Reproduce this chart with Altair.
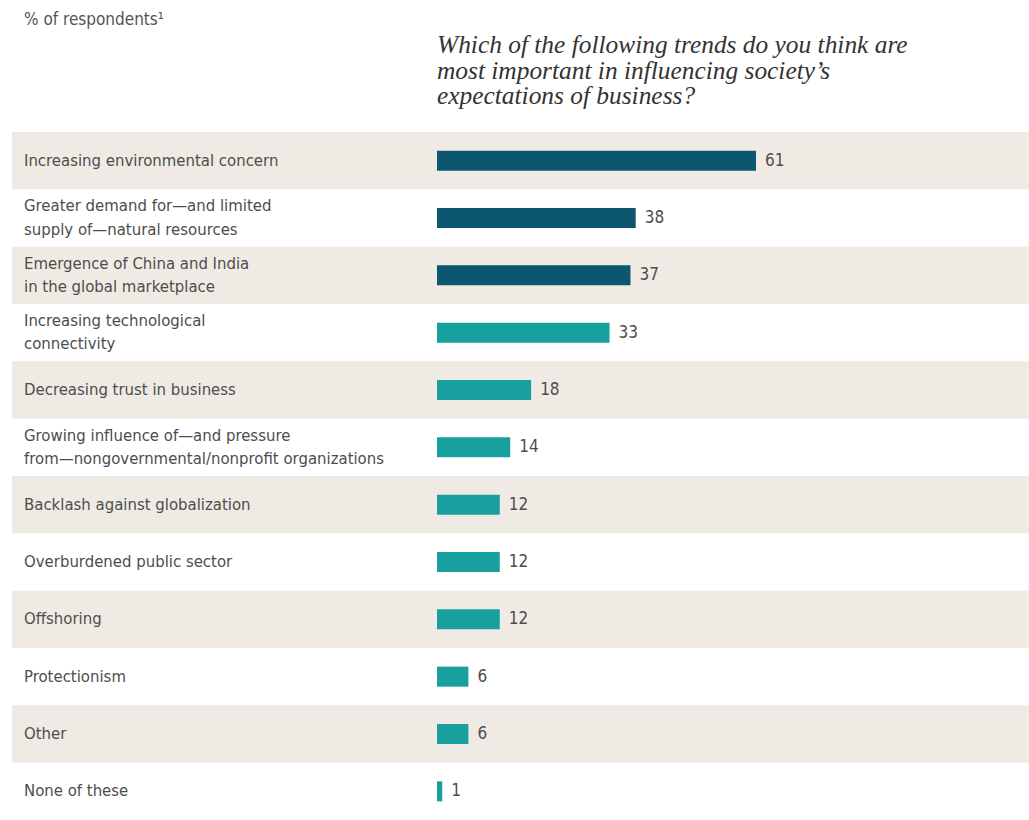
import altair as alt
import pandas as pd

categories = [
    "Increasing environmental concern",
    "Greater demand for\u2014and limited\nsupply of\u2014natural resources",
    "Emergence of China and India\nin the global marketplace",
    "Increasing technological\nconnectivity",
    "Decreasing trust in business",
    "Growing influence of\u2014and pressure\nfrom\u2014nongovernmental/nonprofit organizations",
    "Backlash against globalization",
    "Overburdened public sector",
    "Offshoring",
    "Protectionism",
    "Other",
    "None of these",
]
values = [61, 38, 37, 33, 18, 14, 12, 12, 12, 6, 6, 1]
groups = ["top", "top", "top", "rest", "rest", "rest", "rest", "rest", "rest", "rest", "rest", "rest"]
shaded = [True, False, True, False, True, False, True, False, True, False, True, False]

subtitle = "% of respondents\u00b9"
question = "Which of the following trends do you think are\nmost important in influencing society\u2019s\nexpectations of business?"

df = pd.DataFrame({"cat": categories, "value": values, "group": groups, "shaded": shaded})

LABEL_FONT = "DejaVu Sans Condensed, Roboto, sans-serif"
TEXT_COLOR = "#4d4d4d"

yenc = alt.Y("cat:N", sort=categories, axis=None,
             scale=alt.Scale(range=[132, 820], paddingInner=0, paddingOuter=0))
xscale = alt.Scale(domain=[0, 61], range=[437, 756], zero=True, nice=False)

base = alt.Chart(df)

bands = base.transform_filter("datum.shaded").mark_rect(color="#efebe4").encode(
    y=yenc, x=alt.value(12), x2=alt.value(1029)
)

bars = base.mark_bar(size=20).encode(
    y=yenc,
    x=alt.X("value:Q", scale=xscale, axis=None),
    color=alt.Color("group:N", scale=alt.Scale(domain=["top", "rest"], range=["#0c5670", "#17a09e"]), legend=None),
)

vals = base.mark_text(align="left", baseline="middle", dx=9, font=LABEL_FONT, fontSize=17, color=TEXT_COLOR).encode(
    y=yenc,
    x=alt.X("value:Q", scale=xscale, axis=None),
    text="value:Q",
)

labels1 = base.transform_filter("indexof(datum.cat, '\\n') < 0").mark_text(
    align="left", baseline="middle", font=LABEL_FONT, fontSize=16.6, color=TEXT_COLOR
).encode(y=yenc, x=alt.value(24), text="cat:N")

labels2 = base.transform_filter("indexof(datum.cat, '\\n') >= 0").mark_text(
    align="left", baseline="middle", font=LABEL_FONT, fontSize=16.6, color=TEXT_COLOR,
    lineBreak="\n", lineHeight=23.5, dy=-11.75
).encode(y=yenc, x=alt.value(24), text="cat:N")

sub = alt.Chart(pd.DataFrame({"t": [subtitle]})).mark_text(
    align="left", baseline="middle", font=LABEL_FONT, fontSize=17, color="#555555"
).encode(x=alt.value(24), y=alt.value(20), text="t:N")

q = alt.Chart(pd.DataFrame({"t": [question]})).mark_text(
    align="left", baseline="middle", font="Liberation Serif", fontStyle="italic", fontSize=25.4,
    color="#333333", lineBreak="\n", lineHeight=25.5
).encode(x=alt.value(437), y=alt.value(45), text="t:N")

chart = alt.layer(bands, bars, vals, labels1, labels2, sub, q).properties(
    width=1029, height=820, autosize=alt.AutoSizeParams(type="none"), padding=0,
    background="white"
).configure_view(stroke=None)

chart.save("out.html", embed_options={"renderer": "svg", "actions": False})
